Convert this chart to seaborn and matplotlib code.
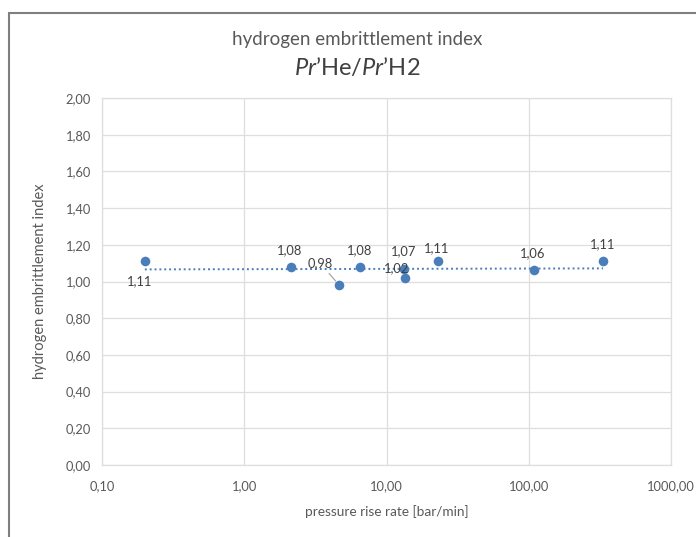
import numpy as np
import pandas as pd
import matplotlib
matplotlib.use("Agg")
import matplotlib.pyplot as plt
import seaborn as sns
from matplotlib.ticker import FuncFormatter, FixedLocator
from matplotlib.patches import Rectangle

# Data
rate = [0.20, 2.13, 4.65, 6.5, 13.3, 13.5, 23.0, 109.0, 333.0]
index = [1.11, 1.08, 0.98, 1.08, 1.07, 1.02, 1.11, 1.06, 1.11]
labels = ["1,11", "1,08", "0,98", "1,08", "1,07", "1,02", "1,11", "1,06", "1,11"]
# label offsets in pixels (dx, dy)
offsets = [(-5, -20), (-1, 17), (-19, 22), (0, 17), (-1, 17), (-8, 10), (-1, 13), (-1, 17), (0, 17)]

xticks = [0.1, 1, 10, 100, 1000]
yticks = [0.0, 0.2, 0.4, 0.6, 0.8, 1.0, 1.2, 1.4, 1.6, 1.8, 2.0]

df = pd.DataFrame({"rate": rate, "index": index})

sns.set_theme(style="white")
plt.rcParams['font.family'] = ['Lato', 'DejaVu Sans']
plt.rcParams['mathtext.fontset'] = 'custom'
plt.rcParams['mathtext.rm'] = 'Lato'
plt.rcParams['mathtext.it'] = 'Lato:italic'

W, H = 696, 537
fig = plt.figure(figsize=(W / 100, H / 100), dpi=100)
ax = fig.add_axes([102 / W, 1 - 465 / H, (671 - 102) / W, (465 - 98) / H])

blue = "#4a7ebb"
grid = "#dedede"
txt = "#595959"

sns.scatterplot(data=df, x="rate", y="index", ax=ax, color=blue, s=48,
                edgecolor=blue, linewidth=0, zorder=3)

# trendline (linear in log x)
lx = np.log10(np.array(rate))
a, b = np.polyfit(lx, np.array(index), 1)
xs = np.array([min(rate), max(rate)])
ax.plot(xs, a * np.log10(xs) + b, linestyle=(0, (1, 1.5)), color=blue, lw=1.4, zorder=2)

ax.set_xscale("log")
ax.set_xlim(0.1, 1000)
ax.set_ylim(0, 2.0)
ax.xaxis.set_major_locator(FixedLocator(xticks))
ax.xaxis.set_minor_locator(FixedLocator([]))
ax.yaxis.set_major_locator(FixedLocator(yticks))
fmt = FuncFormatter(lambda v, p: f"{v:.2f}".replace(".", ","))
ax.xaxis.set_major_formatter(fmt)
ax.yaxis.set_major_formatter(fmt)
ax.grid(True, color=grid, lw=0.9)
ax.set_axisbelow(True)
for sp in ax.spines.values():
    sp.set_color(grid)
    sp.set_linewidth(0.9)
ax.tick_params(axis="both", length=0, colors=txt, labelsize=9.3)
ax.tick_params(axis="x", pad=11)
ax.tick_params(axis="y", pad=8)

ax.set_xlabel("pressure rise rate [bar/min]", color=txt, fontsize=9.8, labelpad=9)
ax.set_ylabel("hydrogen embrittlement index", color=txt, fontsize=10.5, labelpad=13)

for xv, yv, lab, (dx, dy) in zip(rate, index, labels, offsets):
    if lab == "0,98":
        ax.annotate(lab, (xv, yv), xytext=(dx, dy), textcoords="offset pixels",
                    ha="center", va="center", fontsize=9.3, color="#404040",
                    arrowprops=dict(arrowstyle="-", color="#a6a6a6", lw=0.9,
                                    shrinkA=1, shrinkB=4), zorder=4)
    else:
        ax.annotate(lab, (xv, yv), xytext=(dx, dy), textcoords="offset pixels",
                    ha="center", va="center", fontsize=9.3, color="#404040", zorder=4)

fig.text(357 / W, 1 - 40 / H, "hydrogen embrittlement index", ha="center", va="center",
         fontsize=13.5, color=txt)
fig.text(357 / W, 1 - 68 / H, r"$\mathit{Pr}$’He/$\mathit{Pr}$’H2", ha="center", va="center",
         fontsize=17, color="#404040")

# outer frame
fig.patches.append(Rectangle((8.5 / W, -0.05), 1.2, 1 - 13 / H + 0.05, transform=fig.transFigure,
                             fill=False, edgecolor="#7f7f7f", lw=1.5))

fig.savefig("out.png", dpi=100)
